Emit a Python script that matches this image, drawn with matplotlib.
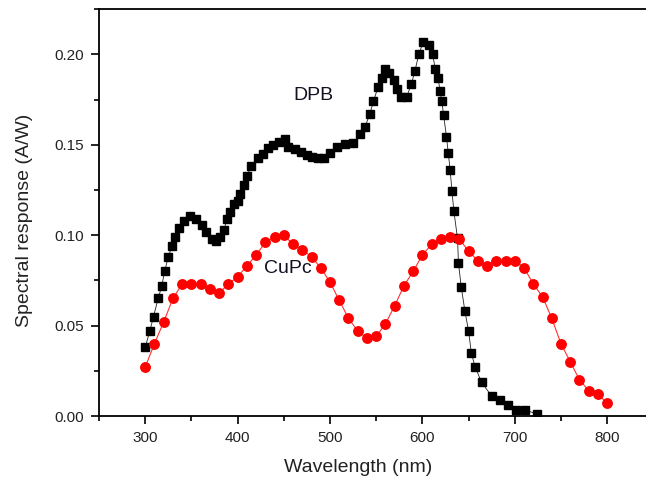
import matplotlib
matplotlib.use('Agg')
import matplotlib.pyplot as plt
from matplotlib.ticker import MultipleLocator

plt.rcParams['font.family'] = ['Liberation Sans', 'DejaVu Sans']

# DPB (squares), wavelength in nm / response in A/W
dpb_wl = [300, 305, 309, 314, 318, 321, 325, 329, 332, 337, 342, 348, 355, 361, 366,
          372, 377, 381, 385, 389, 392, 396, 400, 403, 407, 410, 415, 422, 427, 433,
          438, 445, 451, 455, 462, 469, 475, 481, 487, 493, 500, 508, 516, 525, 533,
          538, 543, 547, 552, 556, 559, 564, 569, 573, 577, 583, 588, 592, 596, 601,
          607, 611, 614, 617, 619, 621, 623, 626, 628, 630, 632, 634, 638, 639, 642,
          646, 650, 653, 657, 664, 675, 684, 693, 701, 711, 724]
dpb_resp = [0.038, 0.047, 0.055, 0.065, 0.072, 0.080, 0.088, 0.094, 0.099, 0.104, 0.108,
            0.1105, 0.109, 0.1055, 0.102, 0.098, 0.097, 0.099, 0.103, 0.109, 0.113, 0.117,
            0.119, 0.123, 0.128, 0.133, 0.138, 0.1425, 0.145, 0.148, 0.150, 0.1517, 0.153,
            0.149, 0.1477, 0.146, 0.1443, 0.1434, 0.1425, 0.1425, 0.1453, 0.149, 0.1505,
            0.151, 0.156, 0.160, 0.167, 0.174, 0.182, 0.187, 0.1917, 0.1895, 0.186, 0.181,
            0.1766, 0.1766, 0.1835, 0.191, 0.200, 0.207, 0.205, 0.200, 0.192, 0.187, 0.180,
            0.174, 0.1665, 0.1545, 0.1456, 0.136, 0.1244, 0.1135, 0.0983, 0.0848, 0.0715,
            0.058, 0.047, 0.0347, 0.0273, 0.0186, 0.011, 0.0087, 0.0061, 0.0035, 0.0035,
            0.001]

# CuPc (circles), every 10 nm
cupc_wl = list(range(300, 801, 10))
cupc_resp = [0.027, 0.040, 0.052, 0.065, 0.073, 0.073, 0.073, 0.070, 0.068, 0.073,
             0.077, 0.083, 0.089, 0.096, 0.099, 0.100, 0.095, 0.092, 0.088, 0.082,
             0.074, 0.064, 0.054, 0.047, 0.043, 0.044, 0.051, 0.061, 0.072, 0.080,
             0.089, 0.095, 0.098, 0.099, 0.098, 0.091, 0.086, 0.083, 0.086, 0.086,
             0.086, 0.082, 0.073, 0.066, 0.054, 0.040, 0.030, 0.020, 0.014, 0.012,
             0.007]

fig = plt.figure(figsize=(6.46, 4.83), dpi=100)
ax = fig.add_axes([99 / 646, (483 - 416) / 483, 554.4 / 646, (416 - 9.2) / 483])

ax.plot(dpb_wl, dpb_resp, color='#222222', lw=0.6, marker='s', markersize=6.3,
        markerfacecolor='black', markeredgecolor='black')
ax.plot(cupc_wl, cupc_resp, color='#ff3030', lw=0.8, marker='o', markersize=6.8,
        markerfacecolor='red', markeredgecolor='red')

ax.text(482, 0.1775, 'DPB', fontsize=14, ha='center', va='center', color='#111122')
ax.text(454, 0.0818, 'CuPc', fontsize=14, ha='center', va='center', color='#111122')

ax.set_xlim(250, 850)
ax.set_ylim(0, 0.225)
ax.xaxis.set_major_locator(MultipleLocator(100))
ax.xaxis.set_minor_locator(MultipleLocator(50))
ax.yaxis.set_major_locator(MultipleLocator(0.05))
ax.yaxis.set_minor_locator(MultipleLocator(0.025))
ax.set_xticks([300, 400, 500, 600, 700, 800])
ax.yaxis.set_major_formatter(plt.FuncFormatter(lambda v, p: '%.2f' % v))

ax.tick_params(which='major', direction='out', length=6, width=1.2, labelsize=11,
               pad=5, colors='black', labelcolor='#222222')
ax.tick_params(which='minor', direction='out', length=3.5, width=1.2)
for s in ax.spines.values():
    s.set_linewidth(1.3)

ax.set_xlabel('Wavelength (nm)', fontsize=14, color='#222222')
ax.set_ylabel('Spectral response (A/W)', fontsize=14, color='#222222')
# label centres as in the original (the plot is cropped on the right)
ax.xaxis.set_label_coords(0.468, -0.106)
ax.yaxis.set_label_coords(-0.119, 0.482)

fig.savefig('out.png', dpi=100)
